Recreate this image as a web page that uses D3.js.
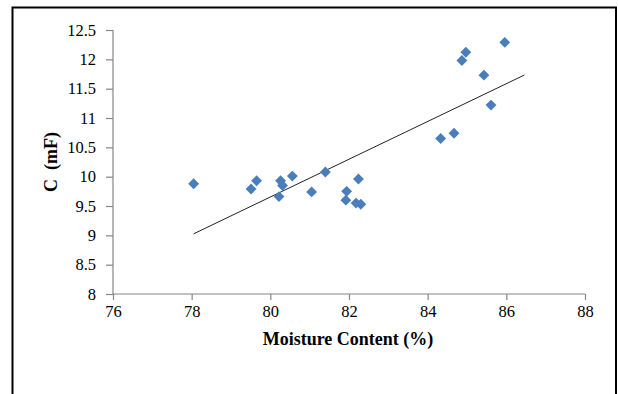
<!DOCTYPE html>
<html>
<head>
<meta charset="utf-8">
<script src="https://cdn.jsdelivr.net/npm/d3@7"></script>
<style>
  html, body { margin: 0; padding: 0; background: #fff; }
  svg { display: block; }
</style>
</head>
<body>
<svg id="chart" width="618" height="394"></svg>
<script>
// Moisture content (%) of each sample
const moisture = [78.05, 79.51, 79.65, 80.22, 80.26, 80.31, 80.56, 81.05, 81.40,
                  81.94, 81.92, 82.18, 82.24, 82.30, 84.33, 84.67, 84.87, 84.97,
                  85.43, 85.61, 85.96];
// Measured capacitance C (mF)
const capacitance = [9.88, 9.79, 9.93, 9.66, 9.93, 9.85, 10.01, 9.74, 10.08,
                     9.75, 9.60, 9.55, 9.96, 9.53, 10.65, 10.74, 11.98, 12.12,
                     11.73, 11.22, 12.29];
const xTicks = [76, 78, 80, 82, 84, 86, 88];
const yTicks = [8, 8.5, 9, 9.5, 10, 10.5, 11, 11.5, 12, 12.5];
// The linear trendline is extended forward past the last sample
const trendForward = 0.5;

const svg = d3.select("#chart");

// Outer frame
svg.append("rect")
  .attr("x", 12.5).attr("y", 7.5)
  .attr("width", 603.5).attr("height", 400)
  .attr("fill", "#fff").attr("stroke", "#000").attr("stroke-width", 2);

const plot = { left: 113, right: 585, top: 30, bottom: 294 };

const x = d3.scaleLinear().domain([76, 88]).range([plot.left, plot.right]);
const y = d3.scaleLinear().domain([8, 12.5]).range([plot.bottom, plot.top]);

const axisColor = "#868686";
const font = "'Liberation Serif', 'Times New Roman', serif";

// X axis
const gx = svg.append("g")
  .attr("transform", `translate(0,${plot.bottom})`)
  .call(d3.axisBottom(x).tickValues(xTicks).tickSize(6).tickPadding(5)
        .tickFormat(d3.format("d")));
// Y axis
const gy = svg.append("g")
  .attr("transform", `translate(${plot.left},0)`)
  .call(d3.axisLeft(y).tickValues(yTicks).tickSize(7).tickPadding(10)
        .tickFormat(d => String(d)));

[gx, gy].forEach(g => {
  g.attr("font-family", font).attr("font-size", 16.5);
  g.select(".domain").attr("stroke", axisColor).attr("stroke-width", 1.2);
  g.selectAll(".tick line").attr("stroke", axisColor).attr("stroke-width", 1.2);
  g.selectAll(".tick text").attr("fill", "#000");
});
gx.selectAll(".domain").attr("d", `M${plot.left},0H${plot.right}`);
gy.selectAll(".domain").attr("d", `M0,${plot.bottom}V${plot.top}`);

// Least-squares trendline through the samples
const n = moisture.length;
const mx = d3.mean(moisture), my = d3.mean(capacitance);
let sxy = 0, sxx = 0;
for (let i = 0; i < n; i++) {
  sxy += (moisture[i] - mx) * (capacitance[i] - my);
  sxx += (moisture[i] - mx) ** 2;
}
const slope = sxy / sxx, intercept = my - slope * mx;
const x0 = d3.min(moisture), x1 = d3.max(moisture) + trendForward;
svg.append("line")
  .attr("x1", x(x0)).attr("y1", y(intercept + slope * x0))
  .attr("x2", x(x1)).attr("y2", y(intercept + slope * x1))
  .attr("stroke", "#222").attr("stroke-width", 1);

// Diamond markers
const diamond = d3.symbol().type(d3.symbolDiamond2).size(75);
svg.append("g")
  .selectAll("path")
  .data(moisture.map((m, i) => [m, capacitance[i]]))
  .join("path")
  .attr("d", diamond)
  .attr("transform", d => `translate(${x(d[0])},${y(d[1])})`)
  .attr("fill", "#4a7ebb");

// Axis titles
svg.append("text")
  .attr("x", (plot.left + plot.right) / 2 - 1)
  .attr("y", 345)
  .attr("text-anchor", "middle")
  .attr("font-family", font)
  .attr("font-weight", "bold")
  .attr("font-size", 18)
  .text("Moisture Content (%)");

svg.append("text")
  .attr("transform", "translate(57,162) rotate(-90)")
  .attr("text-anchor", "middle")
  .attr("font-family", font)
  .attr("font-weight", "bold")
  .attr("font-size", 18)
  .style("white-space", "pre")
  .text("C  (mF)");
</script>
</body>
</html>
